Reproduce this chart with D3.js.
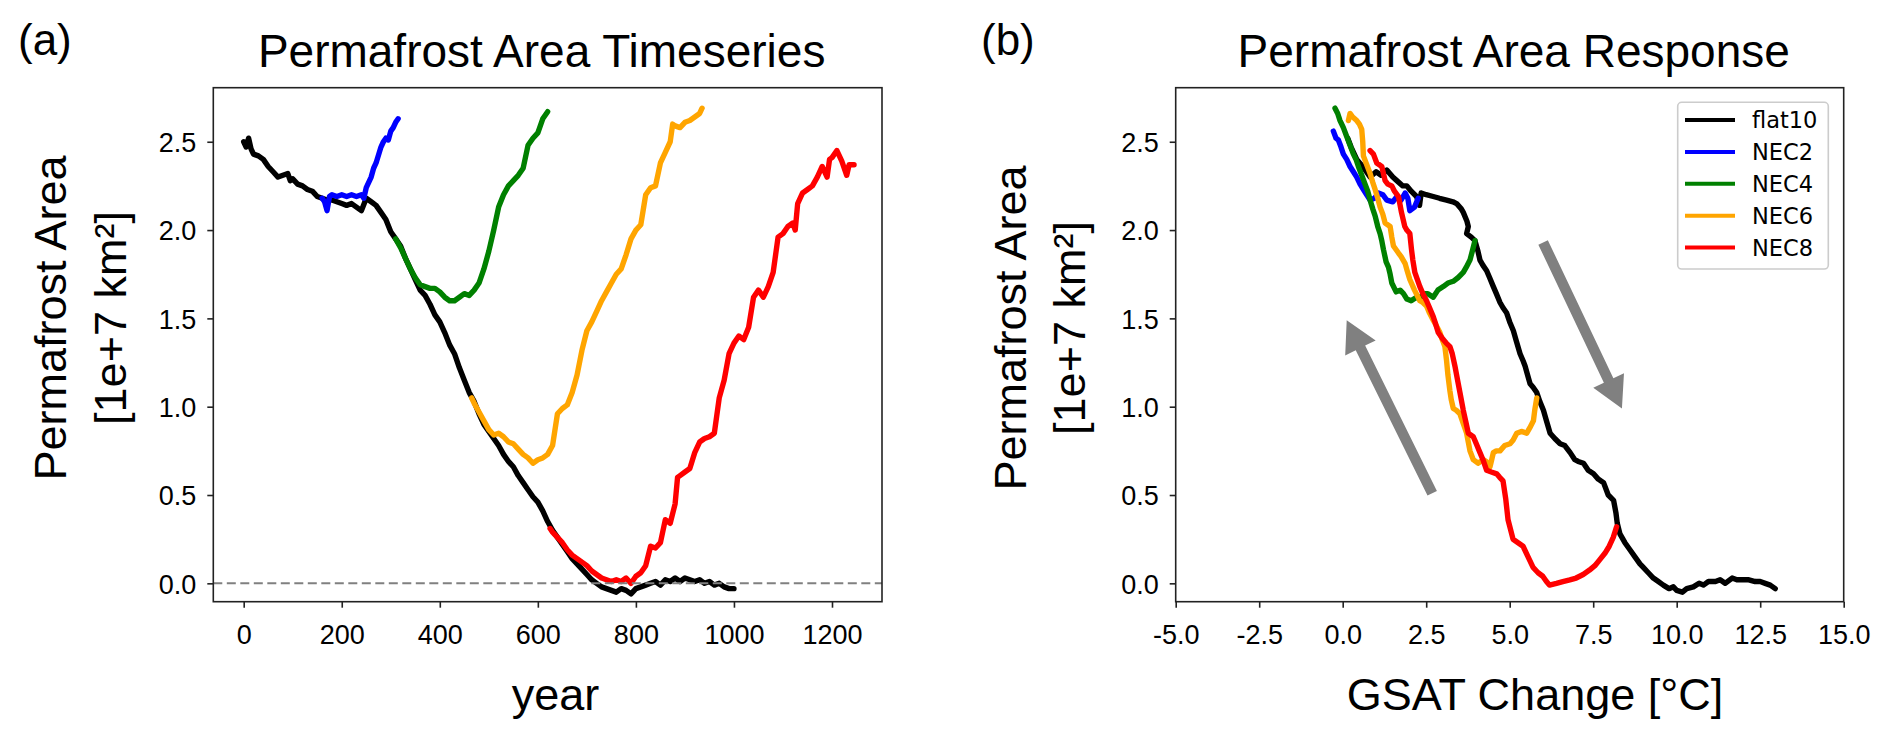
<!DOCTYPE html>
<html>
<head>
<meta charset="utf-8">
<script src="https://cdn.jsdelivr.net/npm/d3@7"></script>
<style>
  html, body { margin: 0; padding: 0; background: #fff; }
  svg { display: block; }
</style>
</head>
<body>
<svg id="chart" width="1892" height="739"></svg>
<script>
// ---------------- DATA ----------------
// Panel (a): [year, permafrost area (1e7 km2)]
const flat10Time = [
 [0,2.50],[5,2.47],[10,2.52],[15,2.46],[20,2.43],[30,2.42],[40,2.40],[50,2.36],[60,2.33],[70,2.30],
 [80,2.31],[90,2.32],[95,2.28],[100,2.29],[110,2.26],[120,2.25],[130,2.23],[140,2.22],[150,2.19],[160,2.18],
 [170,2.17],[180,2.17],[190,2.16],[200,2.15],[210,2.14],[220,2.15],[230,2.13],[240,2.11],[250,2.18],[260,2.16],
 [270,2.14],[280,2.10],[290,2.06],[300,1.99],[310,1.95],[320,1.91],[330,1.84],[340,1.78],[350,1.72],[360,1.66],
 [370,1.63],[380,1.58],[390,1.52],[400,1.48],[410,1.42],[420,1.35],[430,1.30],[440,1.22],[450,1.15],[460,1.08],
 [470,1.03],[480,0.96],[490,0.90],[500,0.86],[510,0.82],[520,0.78],[530,0.73],[540,0.69],[550,0.66],[560,0.61],
 [570,0.57],[580,0.53],[590,0.49],[600,0.46],[610,0.41],[620,0.35],[630,0.30],[640,0.26],[650,0.22],[660,0.18],
 [670,0.14],[680,0.11],[690,0.08],[700,0.05],[710,0.02],[720,0.00],[730,-0.02],[740,-0.03],[750,-0.04],[760,-0.05],
 [770,-0.03],[780,-0.04],[790,-0.06],[800,-0.03],[810,-0.02],[820,-0.01],[830,0.00],[840,0.01],[850,-0.01],[860,0.02],
 [870,0.01],[880,0.03],[890,0.01],[900,0.03],[910,0.02],[920,0.01],[930,0.02],[940,0.00],[950,0.01],[960,-0.01],
 [970,0.00],[980,-0.02],[990,-0.03],[1000,-0.03]
];
const nec2Time = [
 [160,2.18],[165,2.16],[170,2.11],[175,2.19],[180,2.20],[190,2.19],[200,2.20],[210,2.19],[220,2.20],[230,2.19],
 [240,2.20],[245,2.18],[250,2.24],[260,2.30],[265,2.35],[270,2.38],[280,2.47],[285,2.50],[290,2.52],[295,2.51],
 [300,2.56],[305,2.58],[310,2.61],[315,2.63]
];
const nec4Time = [
 [310,1.95],[320,1.90],[330,1.84],[340,1.78],[350,1.73],[360,1.69],[370,1.68],[380,1.67],[390,1.67],[400,1.65],
 [410,1.62],[420,1.60],[430,1.60],[440,1.62],[450,1.64],[460,1.63],[470,1.66],[480,1.70],[490,1.78],[500,1.88],
 [510,2.00],[520,2.13],[530,2.20],[540,2.25],[550,2.28],[560,2.31],[570,2.35],[580,2.48],[590,2.52],[600,2.55],
 [610,2.63],[620,2.67]
];
const nec6Time = [
 [465,1.05],[470,1.02],[480,0.97],[490,0.92],[500,0.87],[510,0.84],[520,0.85],[530,0.83],[540,0.80],[550,0.79],
 [560,0.76],[570,0.73],[580,0.71],[590,0.68],[600,0.70],[610,0.71],[620,0.73],[630,0.78],[640,0.96],[650,0.99],
 [660,1.01],[670,1.08],[680,1.18],[690,1.32],[700,1.43],[710,1.48],[720,1.54],[730,1.60],[740,1.65],[750,1.70],
 [760,1.75],[770,1.78],[780,1.86],[790,1.95],[800,2.00],[810,2.03],[820,2.20],[830,2.24],[840,2.25],[850,2.38],
 [860,2.44],[870,2.50],[875,2.60],[880,2.59],[890,2.58],[900,2.61],[910,2.62],[920,2.64],[930,2.66],[935,2.69]
];
const nec8Time = [
 [625,0.31],[630,0.29],[640,0.26],[650,0.23],[660,0.19],[670,0.16],[680,0.14],[690,0.12],[700,0.10],[710,0.07],
 [720,0.05],[730,0.03],[740,0.02],[750,0.01],[760,0.02],[770,0.01],[780,0.03],[790,0.00],[800,0.04],[810,0.06],
 [820,0.10],[830,0.21],[840,0.20],[850,0.23],[860,0.36],[870,0.34],[880,0.45],[885,0.60],[890,0.61],[900,0.63],
 [910,0.65],[920,0.74],[930,0.80],[940,0.82],[950,0.83],[960,0.85],[970,1.05],[980,1.15],[990,1.30],[1000,1.36],
 [1010,1.40],[1020,1.38],[1030,1.45],[1040,1.62],[1050,1.66],[1060,1.62],[1070,1.68],[1080,1.76],[1090,1.96],[1100,1.98],
 [1110,2.02],[1120,2.04],[1125,2.00],[1130,2.15],[1140,2.21],[1150,2.23],[1160,2.25],[1170,2.30],[1180,2.36],[1190,2.30],
 [1195,2.40],[1200,2.41],[1210,2.45],[1220,2.39],[1230,2.31],[1235,2.37],[1245,2.37]
];

// Panel (b): [GSAT change (degC), permafrost area (1e7 km2)]
const flat10Resp = [
 [0.15,2.52],[0.25,2.47],[0.42,2.40],[0.6,2.36],[0.82,2.30],[1.0,2.33],[1.15,2.31],[1.32,2.34],[1.5,2.30],[1.62,2.28],
 [1.8,2.25],[1.92,2.25],[2.05,2.22],[2.21,2.19],[2.3,2.14],[2.35,2.21],[2.5,2.20],[2.71,2.19],[2.9,2.18],[3.11,2.17],
 [3.3,2.16],[3.41,2.15],[3.55,2.12],[3.61,2.10],[3.72,2.05],[3.76,2.02],[3.71,1.98],[3.85,1.96],[3.96,1.94],[4.05,1.88],
 [4.11,1.83],[4.2,1.80],[4.31,1.77],[4.4,1.73],[4.51,1.68],[4.6,1.64],[4.71,1.59],[4.8,1.56],[4.91,1.53],[5.0,1.48],
 [5.11,1.43],[5.2,1.37],[5.31,1.30],[5.4,1.26],[5.46,1.23],[5.55,1.17],[5.61,1.13],[5.7,1.11],[5.81,1.08],[5.9,1.03],
 [6.01,0.98],[6.1,0.92],[6.21,0.85],[6.35,0.82],[6.51,0.79],[6.65,0.78],[6.81,0.74],[6.95,0.70],[7.05,0.69],[7.21,0.68],
 [7.35,0.64],[7.51,0.62],[7.65,0.59],[7.81,0.57],[7.95,0.50],[8.11,0.47],[8.18,0.40],[8.22,0.34],[8.3,0.28],[8.45,0.23],
 [8.6,0.19],[8.75,0.15],[8.9,0.11],[9.0,0.09],[9.15,0.06],[9.3,0.03],[9.45,0.01],[9.6,-0.01],[9.77,-0.03],[9.9,-0.02],
 [10.0,-0.04],[10.17,-0.05],[10.3,-0.03],[10.5,-0.02],[10.67,0.00],[10.8,-0.01],[10.95,0.01],[11.16,0.01],[11.3,0.02],[11.45,0.00],
 [11.66,0.03],[11.8,0.02],[12.0,0.02],[12.16,0.02],[12.35,0.01],[12.5,0.01],[12.65,0.00],[12.8,-0.01],[12.95,-0.03]
];
const nec2Resp = [
 [2.26,2.18],[2.15,2.13],[2.01,2.11],[1.95,2.18],[1.87,2.21],[1.75,2.17],[1.62,2.19],[1.5,2.16],[1.32,2.17],[1.2,2.20],
 [1.07,2.21],[0.95,2.18],[0.82,2.17],[0.72,2.20],[0.62,2.23],[0.52,2.26],[0.42,2.30],[0.32,2.33],[0.22,2.36],[0.12,2.40],
 [0.02,2.43],[-0.05,2.47],[-0.13,2.51],[-0.2,2.52],[-0.28,2.56]
];
const nec4Resp = [
 [3.96,1.94],[3.88,1.88],[3.81,1.83],[3.7,1.79],[3.61,1.76],[3.45,1.73],[3.31,1.71],[3.15,1.70],[3.01,1.68],[2.85,1.66],
 [2.71,1.62],[2.55,1.64],[2.41,1.64],[2.3,1.61],[2.21,1.62],[2.05,1.60],[1.92,1.61],[1.82,1.64],[1.72,1.66],[1.6,1.65],
 [1.47,1.70],[1.42,1.75],[1.37,1.79],[1.3,1.82],[1.22,1.89],[1.17,1.94],[1.12,1.98],[1.05,2.02],[0.97,2.08],[0.9,2.12],
 [0.82,2.17],[0.75,2.22],[0.67,2.26],[0.57,2.31],[0.47,2.36],[0.4,2.40],[0.32,2.43],[0.22,2.48],[0.12,2.53],[0.02,2.58],
 [-0.08,2.62],[-0.15,2.66],[-0.23,2.69]
];
const nec6Resp = [
 [5.81,1.05],[5.75,0.98],[5.71,0.92],[5.6,0.88],[5.51,0.85],[5.35,0.86],[5.21,0.85],[5.1,0.81],[5.01,0.79],[4.85,0.78],
 [4.71,0.75],[4.6,0.75],[4.51,0.74],[4.45,0.69],[4.41,0.66],[4.3,0.69],[4.21,0.70],[4.05,0.68],[3.91,0.70],[3.85,0.73],
 [3.81,0.75],[3.76,0.80],[3.71,0.85],[3.6,0.91],[3.51,0.96],[3.4,0.98],[3.31,0.99],[3.25,1.04],[3.21,1.09],[3.15,1.18],
 [3.11,1.26],[3.06,1.34],[2.98,1.38],[2.91,1.42],[2.8,1.46],[2.71,1.49],[2.6,1.53],[2.51,1.57],[2.4,1.59],[2.31,1.60],
 [2.15,1.66],[2.01,1.72],[1.93,1.77],[1.87,1.81],[1.75,1.85],[1.67,1.87],[1.52,1.91],[1.47,1.96],[1.42,2.02],[1.27,2.04],
 [1.2,2.09],[1.12,2.13],[1.05,2.18],[0.97,2.23],[0.9,2.27],[0.82,2.32],[0.72,2.37],[0.62,2.42],[0.6,2.50],[0.57,2.57],
 [0.5,2.60],[0.42,2.62],[0.3,2.64],[0.22,2.66],[0.17,2.62]
];
const nec8Resp = [
 [8.2,0.32],[8.1,0.26],[7.98,0.21],[7.85,0.17],[7.68,0.13],[7.55,0.10],[7.39,0.075],[7.2,0.05],[6.99,0.03],[6.8,0.02],
 [6.59,0.01],[6.4,0.00],[6.19,-0.01],[6.1,0.01],[5.99,0.04],[5.85,0.06],[5.7,0.09],[5.55,0.15],[5.4,0.21],[5.25,0.23],
 [5.1,0.25],[4.95,0.36],[4.88,0.48],[4.8,0.58],[4.7,0.60],[4.61,0.62],[4.45,0.63],[4.31,0.64],[4.2,0.70],[4.11,0.74],
 [4.0,0.79],[3.91,0.83],[3.76,0.85],[3.68,0.92],[3.61,0.98],[3.51,1.08],[3.44,1.15],[3.36,1.23],[3.28,1.30],[3.21,1.34],
 [3.1,1.36],[3.01,1.38],[2.86,1.42],[2.78,1.47],[2.71,1.51],[2.6,1.56],[2.51,1.60],[2.4,1.64],[2.31,1.68],[2.16,1.76],
 [2.1,1.83],[2.06,1.89],[2.01,1.98],[1.92,2.00],[1.86,2.02],[1.76,2.10],[1.67,2.19],[1.55,2.22],[1.47,2.25],[1.35,2.26],
 [1.27,2.28],[1.17,2.36],[1.02,2.38],[0.92,2.43],[0.82,2.45]
];

const seriesNames = ["flat10", "NEC2", "NEC4", "NEC6", "NEC8"];
const seriesColors = ["#000000", "#0000ff", "#008000", "#ffa500", "#ff0000"];

const yTicks = [0.0, 0.5, 1.0, 1.5, 2.0, 2.5];
const xTicksYear = [0, 200, 400, 600, 800, 1000, 1200];
const xTicksGsat = [-5.0, -2.5, 0.0, 2.5, 5.0, 7.5, 10.0, 12.5, 15.0];

// arrows in panel (b): [tailGSAT, tailArea, tipGSAT, tipArea]
const arrowsResp = [
  [2.68, 0.51, 0.12, 1.49],
  [6.00, 1.93, 8.36, 0.99]
];

// ---------------- LAYOUT ----------------
const svg = d3.select("#chart");
const FONT = '"Liberation Sans", Arial, Helvetica, sans-serif';
const plotTop = 87.7, plotBottom = 601.7;
const panelA = { left: 213.3, right: 882 };
const panelB = { left: 1175.7, right: 1843.7 };

const yDomain = [-0.104, 2.806];
const yA = d3.scaleLinear().domain(yDomain).range([plotBottom, plotTop]);
const yB = d3.scaleLinear().domain(yDomain).range([plotBottom, plotTop]);
const xA = d3.scaleLinear().domain([-62, 1302]).range([panelA.left, panelA.right]);
const xB = d3.scaleLinear().domain([-5, 15]).range([panelB.left, panelB.right]);

function styleAxis(g) {
  g.select(".domain").remove();
  g.selectAll(".tick line").attr("stroke", "#222").attr("stroke-width", 1.6);
  g.selectAll(".tick text").attr("font-family", FONT).attr("font-size", 27).attr("fill", "#000");
}

function drawFrame(x, y, p, xTicks, xFmt) {
  const gx = svg.append("g").attr("transform", `translate(0,${plotBottom})`)
    .call(d3.axisBottom(x).tickValues(xTicks).tickFormat(xFmt).tickSize(6).tickPadding(12));
  styleAxis(gx);
  gx.selectAll(".tick text").attr("dy", 0).attr("y", 42);
  const gy = svg.append("g").attr("transform", `translate(${p.left},0)`)
    .call(d3.axisLeft(y).tickValues(yTicks).tickFormat(d => d.toFixed(1)).tickSize(6).tickPadding(11));
  styleAxis(gy);
  gy.selectAll(".tick text").attr("dy", "0.36em");
}

function drawBorder(p) {
  svg.append("rect").attr("x", p.left).attr("y", plotTop)
    .attr("width", p.right - p.left).attr("height", plotBottom - plotTop)
    .attr("fill", "none").attr("stroke", "#222").attr("stroke-width", 1.6);
}

function drawLines(x, y, datasets, clipId, p) {
  svg.append("clipPath").attr("id", clipId).append("rect")
    .attr("x", p.left).attr("y", plotTop).attr("width", p.right - p.left).attr("height", plotBottom - plotTop);
  const line = d3.line().x(d => x(d[0])).y(d => y(d[1])).curve(d3.curveLinear);
  const g = svg.append("g").attr("clip-path", `url(#${clipId})`);
  datasets.forEach((data, i) => {
    g.append("path").datum(data).attr("d", line)
      .attr("fill", "none").attr("stroke", seriesColors[i])
      .attr("stroke-width", 5.4).attr("stroke-linejoin", "round").attr("stroke-linecap", "round");
  });
  return g;
}

// ---------- Panel (a) ----------
drawFrame(xA, yA, panelA, xTicksYear, d => String(d));
drawLines(xA, yA, [flat10Time, nec2Time, nec4Time, nec6Time, nec8Time], "clipA", panelA);
svg.append("line")
  .attr("x1", panelA.left).attr("x2", panelA.right)
  .attr("y1", yA(0)).attr("y2", yA(0))
  .attr("stroke", "#808080").attr("stroke-width", 2).attr("stroke-dasharray", "9,4.5");
drawBorder(panelA);

// ---------- Panel (b) ----------
drawFrame(xB, yB, panelB, xTicksGsat, d => d.toFixed(1));
arrowsResp.forEach(a => {
  const T = [xB(a[0]), yB(a[1])], P = [xB(a[2]), yB(a[3])];
  const dx = P[0] - T[0], dy = P[1] - T[1], L = Math.hypot(dx, dy);
  const u = [dx / L, dy / L], n = [-u[1], u[0]];
  const w = 10.5, hw = 34, hl = 31;
  const B = [P[0] - u[0] * hl, P[1] - u[1] * hl];
  const pts = [
    [T[0] + n[0] * w / 2, T[1] + n[1] * w / 2],
    [B[0] + n[0] * w / 2, B[1] + n[1] * w / 2],
    [B[0] + n[0] * hw / 2, B[1] + n[1] * hw / 2],
    P,
    [B[0] - n[0] * hw / 2, B[1] - n[1] * hw / 2],
    [B[0] - n[0] * w / 2, B[1] - n[1] * w / 2],
    [T[0] - n[0] * w / 2, T[1] - n[1] * w / 2]
  ];
  svg.append("polygon").attr("points", pts.map(q => q.join(",")).join(" "))
    .attr("fill", "#808080").attr("stroke", "none");
});
drawLines(xB, yB, [flat10Resp, nec2Resp, nec4Resp, nec6Resp, nec8Resp], "clipB", panelB);
drawBorder(panelB);

// legend
const lg = svg.append("g");
lg.append("rect").attr("x", 1677.7).attr("y", 102.3).attr("width", 150.6).attr("height", 166.7)
  .attr("rx", 4).attr("ry", 4).attr("fill", "#fff").attr("fill-opacity", 0.8)
  .attr("stroke", "#cccccc").attr("stroke-width", 1.6);
seriesNames.forEach((name, i) => {
  const yy = 120 + i * 31.9;
  lg.append("line").attr("x1", 1685).attr("x2", 1735).attr("y1", yy).attr("y2", yy)
    .attr("stroke", seriesColors[i]).attr("stroke-width", 4);
  lg.append("text").attr("x", 1752).attr("y", yy).attr("dy", "0.36em")
    .attr("font-family", '"DejaVu Sans", sans-serif').attr("font-size", 22.5)
    .attr("fill", "#000").text(name);
});

// ---------- Texts ----------
function txt(x, y, s, size, anchor, rot) {
  const t = svg.append("text").attr("font-family", FONT).attr("font-size", size)
    .attr("fill", "#000").attr("text-anchor", anchor || "middle").text(s);
  if (rot) t.attr("transform", `translate(${x},${y}) rotate(-90)`);
  else t.attr("x", x).attr("y", y);
  return t;
}
txt(18, 55, "(a)", 44, "start");
txt(981, 55, "(b)", 44, "start");
txt((panelA.left + panelA.right) / 2 - 6, 66.7, "Permafrost Area Timeseries", 46);
txt((panelB.left + panelB.right) / 2 + 4, 66.7, "Permafrost Area Response", 46);
txt(555.5, 710, "year", 45);
txt(1535, 710, "GSAT Change [°C]", 45);
txt(panelA.left - 147, 318, "Permafrost Area", 45, "middle", true);
txt(panelA.left - 87, 318, "[1e+7 km²]", 45, "middle", true);
txt(panelB.left - 150, 328, "Permafrost Area", 45, "middle", true);
txt(panelB.left - 91, 328, "[1e+7 km²]", 45, "middle", true);
</script>
</body>
</html>
